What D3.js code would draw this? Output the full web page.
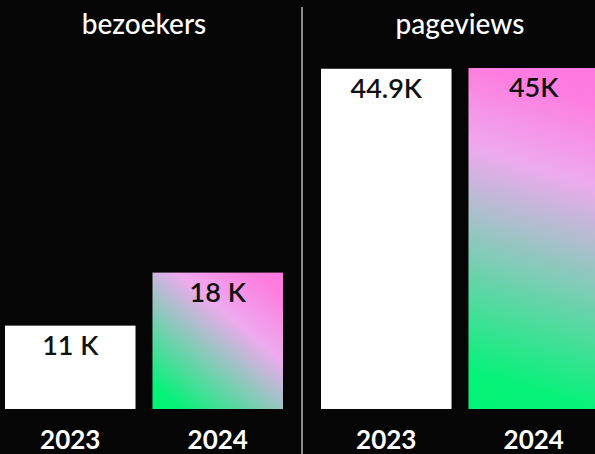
<!DOCTYPE html>
<html><head><meta charset="utf-8">
<script src="https://cdn.jsdelivr.net/npm/d3@7"></script>
<style>
html,body{margin:0;padding:0;background:#050505;}
svg{display:block;}
text{font-family:Lato,"Open Sans",sans-serif;}
</style></head>
<body>
<svg id="chart" width="595" height="454"></svg>
<script>
const years = ["2023", "2024"];
const panelTitles = ["bezoekers", "pageviews"];
const bezoekers = [11, 18];
const pageviews = [44.9, 45];
const bezoekersLabels = ["11 K", "18 K"];
const pageviewsLabels = ["44.9K", "45K"];
const gradientAngles = [40, 17];

const svg = d3.select("#chart");
const W = 595, H = 454;
svg.append("rect").attr("width", W).attr("height", H).attr("fill", "#050505");

const y = d3.scaleLinear().domain([0, 45]).range([409, 68]);
const panels = [
  {title: panelTitles[0], values: bezoekers, labels: bezoekersLabels, range: [5, 283], angle: gradientAngles[0], band: 0.64},
  {title: panelTitles[1], values: pageviews, labels: pageviewsLabels, range: [321, 599], angle: gradientAngles[1], band: 0.69}
];
const defs = svg.append("defs");

panels.forEach((p, pi) => {
  const x = d3.scaleBand().domain(years).range(p.range).paddingInner(0.115).paddingOuter(0);
  const g = svg.append("g");
  const cx = (p.range[0] + p.range[1]) / 2;
  g.append("text").attr("x", cx).attr("y", 34).attr("text-anchor", "middle")
    .attr("fill", "#ffffff").attr("font-size", 28).attr("font-weight", 500).text(p.title);

  years.forEach((yr, i) => {
    const bx = x(yr), bw = x.bandwidth(), by = y(p.values[i]), bh = y(0) - y(p.values[i]);
    let fill = "#ffffff";
    if (i === 1) {
      const id = "grad" + pi;
      const th = p.angle * Math.PI / 180;
      const ux = Math.sin(th), uy = -Math.cos(th);
      const half = (Math.abs(bw * ux) + Math.abs(bh * uy)) / 2;
      const ccx = bx + bw / 2, ccy = by + bh / 2;
      const lg = defs.append("linearGradient").attr("id", id).attr("gradientUnits", "userSpaceOnUse")
        .attr("x1", ccx - ux * half).attr("y1", ccy - uy * half)
        .attr("x2", ccx + ux * half).attr("y2", ccy + uy * half);
      lg.append("stop").attr("offset", "0").attr("stop-color", "#00f576");
      lg.append("stop").attr("offset", "0.1").attr("stop-color", "#06f278");
      lg.append("stop").attr("offset", p.band).attr("stop-color", "#eeaaee");
      lg.append("stop").attr("offset", "0.9").attr("stop-color", "#fd7ee0");
      lg.append("stop").attr("offset", "1").attr("stop-color", "#ff78e0");
      fill = `url(#${id})`;
    }
    g.append("rect").attr("x", bx).attr("y", by).attr("width", bw).attr("height", bh).attr("fill", fill);
    g.append("text").attr("x", bx + bw / 2).attr("y", by + 29).attr("text-anchor", "middle")
      .attr("fill", "#111111").attr("font-size", 27).attr("font-weight", 600).text(p.labels[i]);
    g.append("text").attr("x", bx + bw / 2).attr("y", 449).attr("text-anchor", "middle")
      .attr("fill", "#ffffff").attr("font-size", 26).attr("font-weight", 700).text(yr);
  });
});

svg.append("line").attr("x1", 302).attr("x2", 302).attr("y1", 7).attr("y2", H)
  .attr("stroke", "#e6e6e6").attr("stroke-width", 1.2);
</script>
</body></html>
